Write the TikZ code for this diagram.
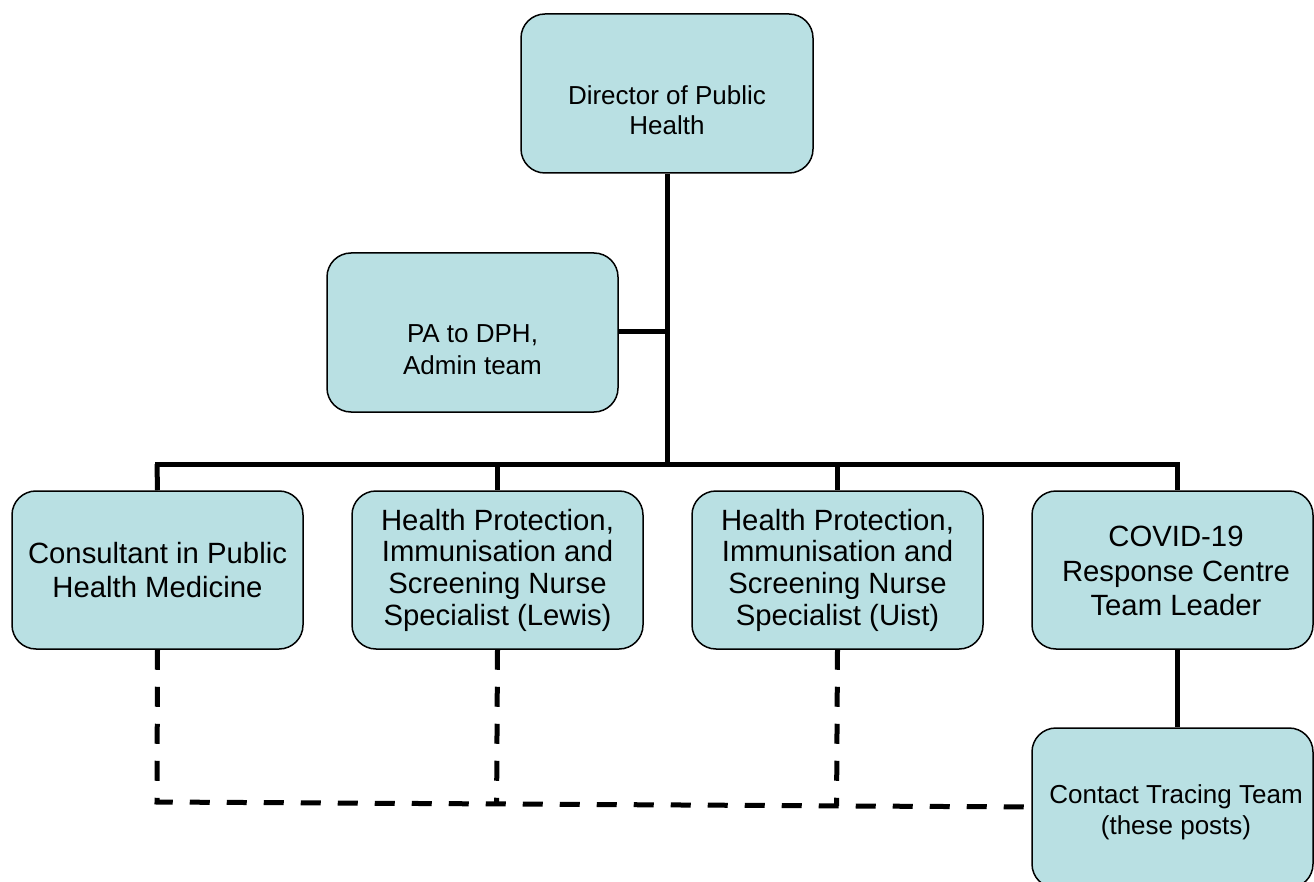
\documentclass[tikz,border=0pt]{standalone}
\usepackage{fontspec}
\setmainfont{Liberation Sans}
\usetikzlibrary{calc}
\definecolor{boxfill}{RGB}{185,224,227}
\tikzset{
  orgbox/.style={draw=black, line width=1.5pt, fill=boxfill, rounded corners=24pt,
    rectangle, align=center, inner sep=0pt, text=black},
  boxtext/.style={align=center, inner sep=0pt, text=black},
  bigtxt/.style={font=\fontsize{29.3}{31.7}\selectfont},
  bigtxtw/.style={font=\fontsize{29.3}{34.2}\selectfont},
  smalltxt/.style={font=\fontsize{26}{30.5}\selectfont},
  smalltxtw/.style={font=\fontsize{26}{32}\selectfont},
  solidlink/.style={draw=black, line width=5pt},
  dashlink/.style={draw=black, line width=5pt, dash pattern=on 20pt off 17pt},
}
\begin{document}
\begin{tikzpicture}[x=1pt, y=-1pt]
\useasboundingbox (0,0) rectangle (1314,882);
\clip (0,0) rectangle (1314,882);
\fill[white] (0,0) rectangle (1314,882);

% boxes
\node[orgbox, minimum width=292pt, minimum height=159pt] (dph) at (667,93.5) {};
\node[boxtext, smalltxt] (dpht) at (667,110) {Director of Public\\Health};
\node[orgbox, minimum width=291pt, minimum height=159pt] (pa) at (472.5,332.5) {};
\node[boxtext, smalltxtw] (pat) at (472.5,350) {PA to DPH,\\Admin team};
\node[orgbox, bigtxtw, minimum width=291pt, minimum height=158pt] (cons) at (157.5,570) {Consultant in Public\\Health Medicine};
\node[orgbox, bigtxt, minimum width=291pt, minimum height=158pt] (lewis) at (497.5,570) {Health Protection,\\Immunisation and\\Screening Nurse\\Specialist (Lewis)};
\node[orgbox, bigtxt, minimum width=291pt, minimum height=158pt] (uist) at (837.5,570) {Health Protection,\\Immunisation and\\Screening Nurse\\Specialist (Uist)};
\node[orgbox, minimum width=281pt, minimum height=158pt] (cov) at (1172.5,570) {};
\node[boxtext, bigtxtw] (covt) at (1176,571) {COVID-19\\Response Centre\\Team Leader};
\node[orgbox, minimum width=281pt, minimum height=160pt] (ctt) at (1172.5,808) {};
\node[boxtext, smalltxt] (cttt) at (1176,812.5) {Contact Tracing Team\\(these posts)};

% coordinates
\coordinate (trunk) at (667,464);
\coordinate (paj) at (667,332);
\coordinate (barL) at (157,464);
\coordinate (barR) at (1177,464);
\coordinate (d1) at (157,802);
\coordinate (d2) at (1032,807);

% solid connectors
\draw[solidlink] (dph.south) -- (trunk);
\draw[solidlink] (pa.east |- paj) -- (paj);
\draw[solidlink, line cap=rect] (barL) -- (barR);
\draw[solidlink] (barL) -- (cons.north);
\draw[solidlink] (lewis.north |- trunk) -- (lewis.north);
\draw[solidlink] (uist.north |- trunk) -- (uist.north);
\draw[solidlink] (barR) -- (barR |- cov.north);
\draw[solidlink] (barR |- cov.south) -- (barR |- ctt.north);

% dashed connectors
\draw[dashlink] (cons.south) -- (d1) -- (d2);
\draw[dashlink] (lewis.south) -- ($(d1)!(lewis.south)!(d2)$);
\draw[dashlink] (uist.south) -- ($(d1)!(uist.south)!(d2)$);
\end{tikzpicture}
\end{document}
